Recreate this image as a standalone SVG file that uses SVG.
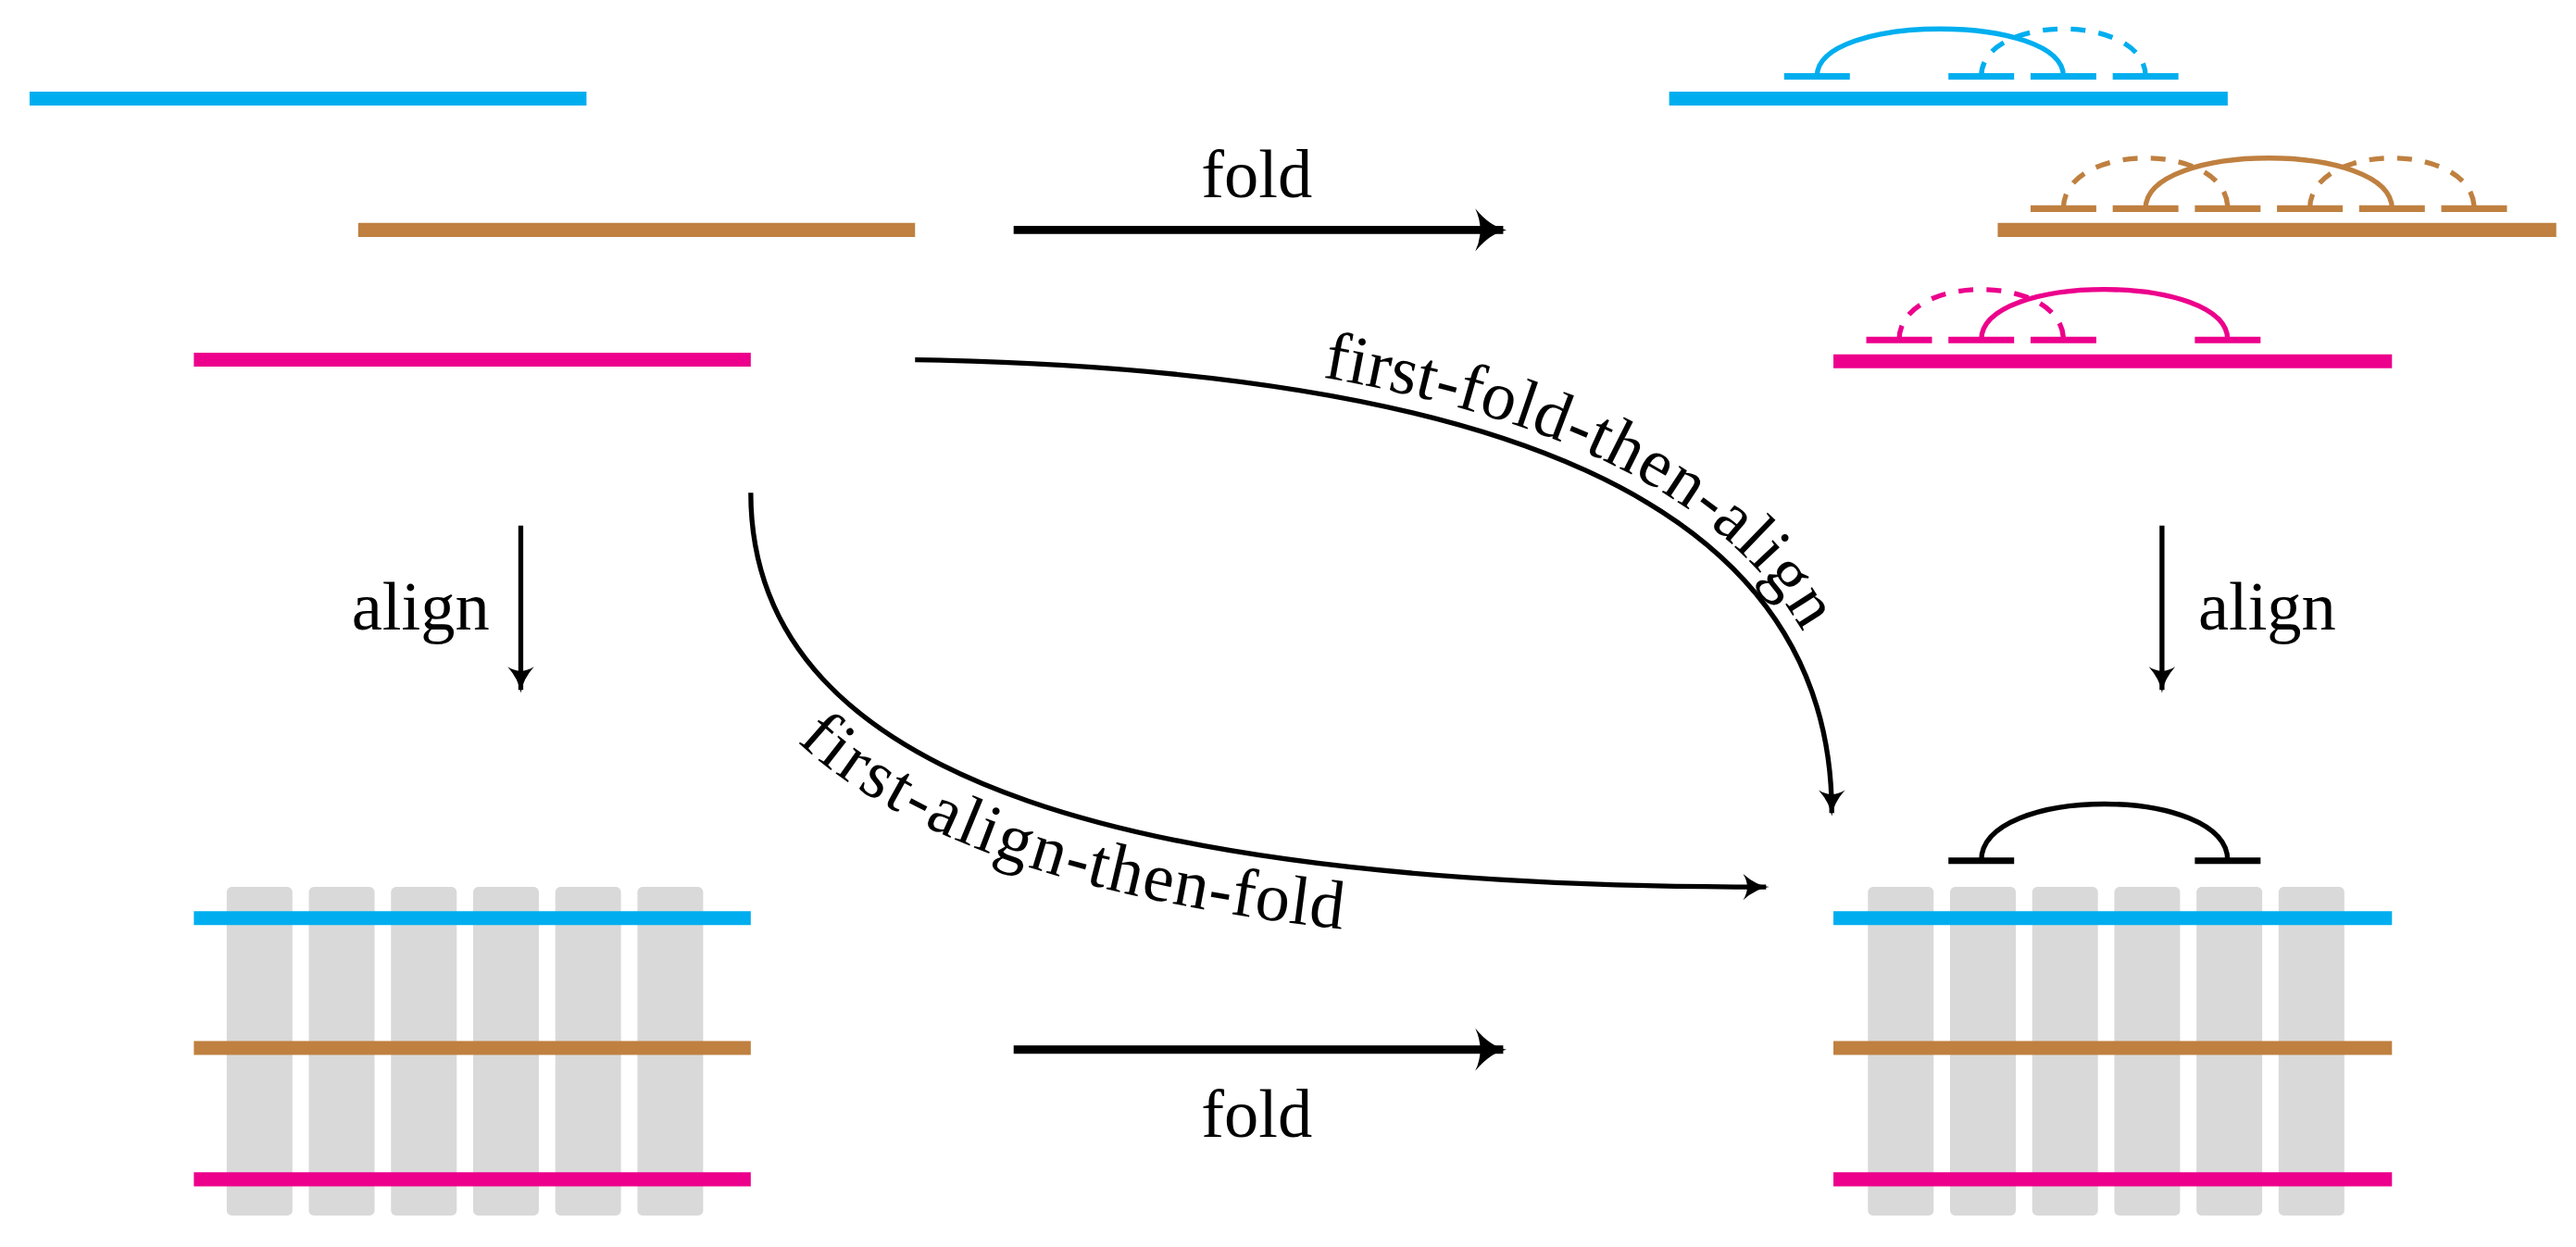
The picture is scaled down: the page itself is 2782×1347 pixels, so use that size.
<svg xmlns="http://www.w3.org/2000/svg" width="2782" height="1347" viewBox="0 0 2782 1347">
<style>
.b{stroke:#00AEEF}.o{stroke:#BF8040}.p{stroke:#EC008C}
.ln{stroke-width:8.5;fill:none}
.tk{stroke-width:4;fill:none}
.arc{stroke-width:3;fill:none}
.ds{stroke-dasharray:9 8}
.bar{fill:#D9D9D9}
.t{font-family:"Liberation Serif","DejaVu Serif",serif;font-size:42px;fill:#000}
.ar{stroke:#000;fill:none}
</style>
<defs>
<marker id="hb" markerUnits="userSpaceOnUse" markerWidth="40" markerHeight="40" viewBox="-30 -20 40 40" refX="0" refY="0" orient="auto" overflow="visible">
<path d="M-17,-13 Q-8,-2 2,0 Q-8,2 -17,13 Q-11,0 -17,-13Z" fill="#000"/>
</marker>
<marker id="hs" markerUnits="userSpaceOnUse" markerWidth="40" markerHeight="40" viewBox="-30 -20 40 40" refX="0" refY="0" orient="auto" overflow="visible">
<path d="M-14,-8 Q-6,-1 2,0 Q-6,1 -14,8 Q-9,0 -14,-8Z" fill="#000"/>
</marker>
<g id="cols"><rect class="bar" x="0" y="0" width="40" height="200" rx="3"/><rect class="bar" x="50" y="0" width="40" height="200" rx="3"/><rect class="bar" x="100" y="0" width="40" height="200" rx="3"/><rect class="bar" x="150" y="0" width="40" height="200" rx="3"/><rect class="bar" x="200" y="0" width="40" height="200" rx="3"/><rect class="bar" x="250" y="0" width="40" height="200" rx="3"/></g>
</defs>
<g transform="scale(1.77423)">
<g id="unaligned">
<line class="ln b" x1="18" y1="60" x2="357" y2="60"/>
<line class="ln o" x1="218" y1="140" x2="557" y2="140"/>
<line class="ln p" x1="118" y1="219" x2="457" y2="219"/>
</g>
<g id="folded">
<line class="ln b" x1="1016" y1="60" x2="1356" y2="60"/>
<g class="b">
<path class="tk" d="M1086,46.5h40M1186,46.5h40M1236,46.5h40M1286,46.5h40"/>
<path class="arc" d="M1106,46.5 C1106,8 1256,8 1256,46.5"/>
<path class="arc ds" d="M1206,46.5 C1206,8 1306,8 1306,46.5"/>
</g>
<line class="ln o" x1="1216" y1="140" x2="1556" y2="140"/>
<g class="o">
<path class="tk" d="M1236,127h40M1286,127h40M1336,127h40M1386,127h40M1436,127h40M1486,127h40"/>
<path class="arc" d="M1306,127 C1306,86 1456,86 1456,127"/>
<path class="arc ds" d="M1256,127 C1256,86 1356,86 1356,127"/>
<path class="arc ds" d="M1406,127 C1406,86 1506,86 1506,127"/>
</g>
<line class="ln p" x1="1116" y1="220" x2="1456" y2="220"/>
<g class="p">
<path class="tk" d="M1136,207h40M1186,207h40M1236,207h40M1336,207h40"/>
<path class="arc" d="M1206,207 C1206,166 1356,166 1356,207"/>
<path class="arc ds" d="M1156,207 C1156,166 1256,166 1256,207"/>
</g>
</g>
<g id="aligned">
<use href="#cols" x="138" y="540"/>
<line class="ln b" x1="118" y1="559" x2="457" y2="559"/>
<line class="ln o" x1="118" y1="638" x2="457" y2="638"/>
<line class="ln p" x1="118" y1="718" x2="457" y2="718"/>
</g>
<g id="aligned-folded">
<use href="#cols" x="1137" y="540"/>
<line class="ln b" x1="1116" y1="559" x2="1456" y2="559"/>
<line class="ln o" x1="1116" y1="638" x2="1456" y2="638"/>
<line class="ln p" x1="1116" y1="718" x2="1456" y2="718"/>
<path class="tk" stroke="#000" d="M1186,524h40M1336,524h40"/>
<path class="arc" stroke="#000" d="M1206,524 C1206,478 1356,478 1356,524"/>
</g>
<g id="connectors">
<line class="ar" stroke-width="5" x1="617" y1="140" x2="915" y2="140" marker-end="url(#hb)"/>
<line class="ar" stroke-width="5" x1="617" y1="639" x2="915" y2="639" marker-end="url(#hb)"/>
<line class="ar" stroke-width="3" x1="317" y1="320" x2="317" y2="420" marker-end="url(#hs)"/>
<line class="ar" stroke-width="3" x1="1316" y1="320" x2="1316" y2="420" marker-end="url(#hs)"/>
<path id="c1" class="ar" stroke-width="3" d="M557,219 C900,225 1115,300 1115,495" marker-end="url(#hs)"/>
<path id="c2" class="ar" stroke-width="3" d="M457,300 C457,480 700,540 1075,540" marker-end="url(#hs)"/>
</g>
<g id="labels">
<text class="t" x="765" y="120" text-anchor="middle">fold</text>
<text class="t" x="765" y="692" text-anchor="middle">fold</text>
<text class="t" x="298" y="383" text-anchor="end">align</text>
<text class="t" x="1338" y="383">align</text>
<text class="t" dy="-10"><textPath href="#c1" startOffset="60%" text-anchor="middle">first-fold-then-align</textPath></text>
<text class="t" dy="38"><textPath href="#c2" startOffset="42%" text-anchor="middle">first-align-then-fold</textPath></text>
</g>
</g>
</svg>
